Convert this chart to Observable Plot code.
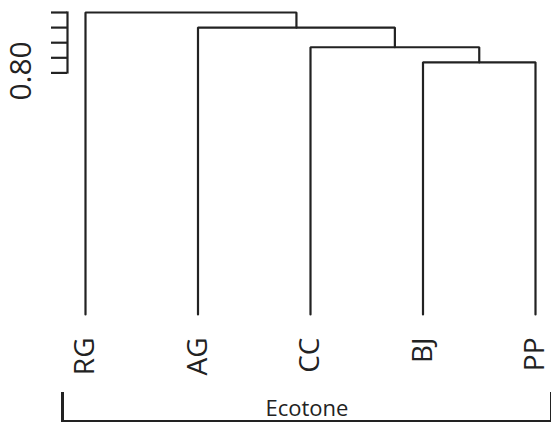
<!DOCTYPE html>
<html>
<head>
<meta charset="utf-8">
<script src="https://cdn.jsdelivr.net/npm/d3@7"></script>
<script src="https://cdn.jsdelivr.net/npm/@observablehq/plot@0.6"></script>
<style>
  html, body { margin: 0; padding: 0; background: #fff; overflow: hidden; }
  #chart svg { display: block; }
  #bracket {
    position: relative;
    margin-left: 61px;
    width: 486px;
    height: 28px;
    border-left: 3px solid #222;
    border-right: 2px solid #222;
    border-bottom: 2px solid #222;
    font-family: "Open Sans", sans-serif;
    font-size: 22px;
    font-weight: 500;
    color: #222;
    text-align: center;
    line-height: 30px;
    box-sizing: content-box;
  }
</style>
</head>
<body>
<div id="chart"></div>
<div id="bracket">Ecotone</div>
<script>
// ---- data ----
const labels = ["RG", "AG", "CC", "BJ", "PP"];
// merges in order: children are a leaf label or index of an earlier merge
const mergeLeft  = ["BJ", "CC", "AG", "RG"];
const mergeRight = ["PP", 0, 1, 2];
const mergeHeights = [0.807, 0.817, 0.830, 0.840];
const leafHeight = 0.64;
const yTicks = [0.80, 0.81, 0.82, 0.83, 0.84];
const yLabelTicks = [0.80];
const groupName = "Ecotone";

// ---- build dendrogram elbows ----
const leafPos = new Map(labels.map((l, i) => [l, {x: i + 1, h: leafHeight}]));
const mergePos = [];
const pts = [];
const leaves = labels.map((l, i) => ({label: l, x: i + 1, h: leafHeight}));
function nodeOf(c) { return typeof c === "string" ? leafPos.get(c) : mergePos[c]; }
mergeHeights.forEach((h, k) => {
  const L = nodeOf(mergeLeft[k]), R = nodeOf(mergeRight[k]);
  pts.push({k, x: L.x, y: L.h}, {k, x: L.x, y: h}, {k, x: R.x, y: h}, {k, x: R.x, y: R.h});
  mergePos[k] = {x: (L.x + R.x) / 2, h};
});

document.getElementById("bracket").textContent = groupName;

const chart = Plot.plot({
  width: 551,
  height: 392,
  marginTop: 12,
  marginBottom: 392 - 72,
  marginLeft: 67,
  marginRight: 0,
  style: {fontFamily: "Open Sans, sans-serif", background: "#fff", color: "#222", overflow: "visible"},
  x: {domain: [1, 5], range: [85, 535], axis: null},
  y: {domain: [0.64, 0.84], range: [314, 12]},
  marks: [
    Plot.frame({anchor: "left", stroke: "#222", strokeWidth: 2.2}),
    // tick marks only
    Plot.axisY({
      ticks: yTicks,
      tickSize: 16,
      text: null,
      label: null,
      stroke: "#222",
      strokeWidth: 2.2
    }),
    // tick label only
    Plot.axisY({
      ticks: yLabelTicks,
      tickSize: 16,
      tickPadding: 21,
      tickRotate: -90,
      tickFormat: d => d.toFixed(2),
      fontSize: 30,
      dy: -2,
      label: null,
      strokeOpacity: 0,
      fill: "#222"
    }),
    Plot.line(pts, {x: "x", y: "y", z: "k", stroke: "#222", strokeWidth: 2.2, strokeLinejoin: "miter"}),
    Plot.text(leaves, {
      x: "x", y: "h", text: "label",
      rotate: -90, textAnchor: "end", lineAnchor: "middle",
      dy: 23, fontSize: 28, fontWeight: 500, fill: "#222"
    })
  ]
});
document.getElementById("chart").appendChild(chart);
</script>
</body>
</html>
